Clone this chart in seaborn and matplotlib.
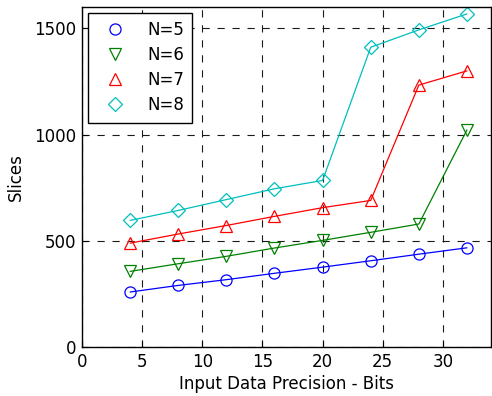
import matplotlib
matplotlib.use("Agg")
import matplotlib.pyplot as plt
from matplotlib.lines import Line2D
import seaborn as sns
import pandas as pd

bits = [4, 8, 12, 16, 20, 24, 28, 32]
slices_n5 = [259, 290, 317, 347, 376, 406, 437, 467]
slices_n6 = [356, 392, 427, 466, 502, 540, 579, 1022]
slices_n7 = [489, 532, 572, 615, 656, 690, 1233, 1300]
slices_n8 = [596, 643, 694, 745, 784, 1411, 1493, 1568]
series_labels = ["N=5", "N=6", "N=7", "N=8"]
x_ticks = [0, 5, 10, 15, 20, 25, 30]
y_ticks = [0, 500, 1000, 1500]

colors = ["#0000ff", "#008000", "#ff0000", "#00bfbf"]
markers = ["o", "v", "^", "D"]
msizes = [8, 8.5, 8.5, 7]

rows = []
for lab, vals in zip(series_labels, [slices_n5, slices_n6, slices_n7, slices_n8]):
    for b, v in zip(bits, vals):
        rows.append({"Bits": b, "Slices": v, "N": lab})
df = pd.DataFrame(rows)

sns.set_theme(style="white")
plt.rcParams["font.family"] = ["DejaVu Sans"]
plt.rcParams["text.color"] = "black"
plt.rcParams["axes.labelcolor"] = "black"

fig = plt.figure(figsize=(4.92, 3.96), dpi=100)
ax = fig.add_axes([0.1667, 0.1237, 0.8313, 0.8583])

sns.lineplot(data=df, x="Bits", y="Slices", hue="N", style="N",
             palette=colors, markers=markers, dashes=False,
             linewidth=0.9, markersize=8, markerfacecolor="none",
             legend=False, ax=ax)
for line, c, ms in zip(ax.lines, colors, msizes):
    line.set_markeredgecolor(c)
    line.set_markerfacecolor("none")
    line.set_markeredgewidth(0.9)
    line.set_markersize(ms)

ax.set_xlim(0, 34)
ax.set_ylim(0, 1600)
ax.set_xticks(x_ticks)
ax.set_yticks(y_ticks)
ax.grid(True, color="#1a1a1a", linestyle=(0, (6.5, 7)), linewidth=0.8)
ax.set_axisbelow(True)
for s in ax.spines.values():
    s.set_color("black")
    s.set_linewidth(1.0)
ax.tick_params(direction="in", length=4, width=0.8, colors="black",
               labelsize=12, bottom=True, left=True, pad=4)
ax.set_xlabel("Input Data Precision - Bits", fontsize=12, color="black", labelpad=3)
ax.set_ylabel("Slices", fontsize=12, color="black", labelpad=7)

handles = [Line2D([], [], linestyle="none", marker=m, markersize=ms,
                  markerfacecolor="none", markeredgecolor=c, markeredgewidth=0.9)
           for m, c, ms in zip(markers, colors, msizes)]
leg = ax.legend(handles, series_labels, loc="upper left", fontsize=12,
                frameon=True, fancybox=False, framealpha=1,
                borderaxespad=0.35, handletextpad=0.85, labelspacing=0.42,
                borderpad=0.5, handlelength=2.2, labelcolor="black")
leg.get_frame().set_edgecolor("black")
leg.get_frame().set_linewidth(1.0)

fig.savefig("out.png", dpi=100)
